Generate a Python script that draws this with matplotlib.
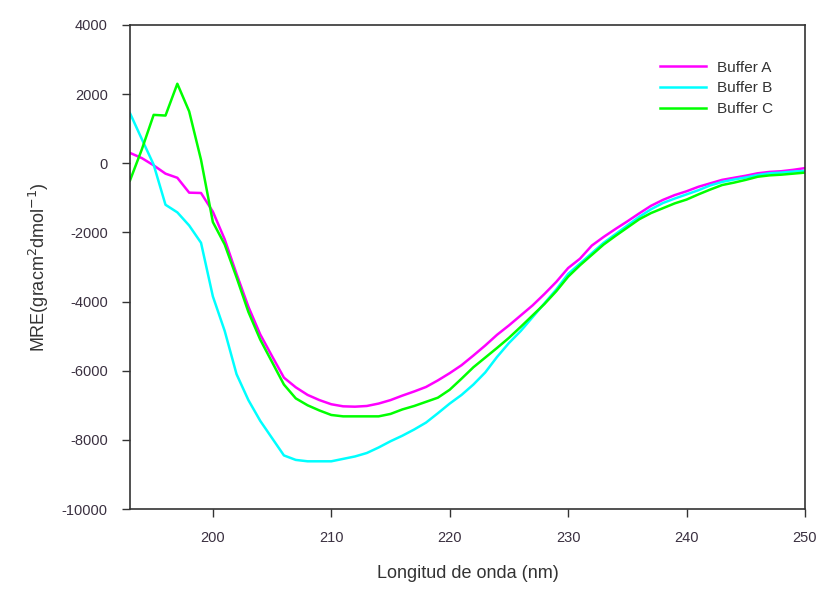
import matplotlib
matplotlib.use('Agg')
import matplotlib.pyplot as plt
import numpy as np

plt.rcParams['font.family'] = ['Liberation Sans', 'DejaVu Sans']
plt.rcParams['axes.unicode_minus'] = False

# wavelength in nm, 1 nm steps
wl = list(range(193, 251))

buffer_a = [300, 150, -60, -300, -420, -850, -860, -1400, -2200, -3200,
            -4150, -4950, -5580, -6200, -6480, -6700, -6850, -6970, -7030, -7040,
            -7020, -6950, -6850, -6720, -6600, -6470, -6280, -6070, -5840, -5560,
            -5270, -4960, -4690, -4400, -4110, -3780, -3430, -3030, -2760, -2380,
            -2130, -1900, -1680, -1450, -1230, -1060, -920, -810, -680, -580,
            -480, -420, -360, -290, -250, -230, -190, -140]

buffer_b = [1450, 700, -40, -1200, -1420, -1800, -2300, -3850, -4850, -6100,
            -6850, -7450, -7950, -8450, -8580, -8620, -8620, -8620, -8550, -8480,
            -8380, -8220, -8040, -7880, -7700, -7500, -7230, -6950, -6700, -6400,
            -6050, -5600, -5200, -4850, -4450, -4050, -3650, -3200, -2900, -2600,
            -2300, -2050, -1800, -1550, -1330, -1150, -1020, -900, -780, -640,
            -540, -470, -410, -340, -290, -270, -240, -220]

buffer_c = [-500, 400, 1400, 1380, 2300, 1500, 100, -1700, -2350, -3300,
            -4300, -5100, -5750, -6400, -6800, -7000, -7150, -7280, -7320, -7320,
            -7320, -7320, -7250, -7120, -7020, -6900, -6780, -6550, -6230, -5900,
            -5620, -5340, -5050, -4730, -4400, -4070, -3700, -3280, -2950, -2650,
            -2350, -2100, -1860, -1620, -1440, -1300, -1160, -1050, -900, -760,
            -630, -560, -480, -390, -350, -330, -300, -270]

labels = ['Buffer A', 'Buffer B', 'Buffer C']
colors = ['#ff00ff', '#00ffff', '#00ff00']

fig = plt.figure(figsize=(8.21, 5.89), dpi=100)
ax = fig.add_axes([0.1583, 0.1358, 0.8222, 0.8218])

for ys, lab, c in zip([buffer_a, buffer_b, buffer_c], labels, colors):
    ax.plot(wl, ys, color=c, lw=1.8, label=lab)

ax.set_xlim(193, 250)
ax.set_ylim(-10000, 4000)
ax.set_xticks([200, 210, 220, 230, 240, 250])
ax.set_yticks(np.arange(-10000, 4001, 2000))
ax.tick_params(direction='out', length=6, width=1, labelsize=10.5,
               labelcolor='#3a3040', color='#333333', pad=10)
for s in ax.spines.values():
    s.set_color('#333333')
    s.set_linewidth(1.2)

ax.set_xlabel('Longitud de onda (nm)', fontsize=13, color='#333333', labelpad=14)
ax.set_ylabel('MRE(gracm$^{2}$dmol$^{-1}$)', fontsize=13, color='#333333', labelpad=8)

leg = ax.legend(loc='upper left', bbox_to_anchor=(0.765, 0.955), frameon=False,
                fontsize=11, handlelength=3.0, handletextpad=0.7, labelspacing=0.45)
for t in leg.get_texts():
    t.set_color('#333333')

fig.savefig('out.png', dpi=100)
